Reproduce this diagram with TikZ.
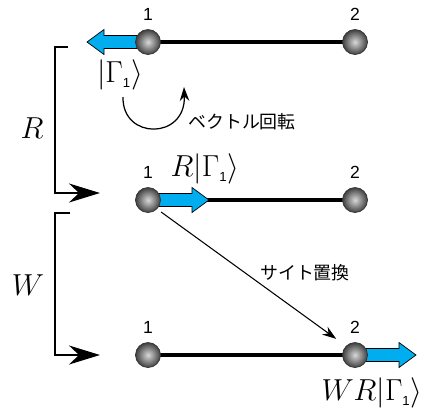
\documentclass[tikz,border=0pt]{standalone}
\usepackage{amsmath}
\usepackage{fontspec}
\newfontfamily\jpfont{Noto Sans CJK JP}
\newfontfamily\numfont{Liberation Sans}
\usepackage{tikz}
\usetikzlibrary{arrows.meta,positioning}
\definecolor{spinblue}{RGB}{0,174,239}

\begin{document}
\begin{tikzpicture}[x=0.02cm, y=-0.02cm,
    ball/.style={circle, minimum size=0.5cm, inner sep=0, draw=black!80, thin, inner color=white!85!black, outer color=black!75},
    bond/.style={line width=2.3pt},
    spinvec/.pic={\draw[black, thin, fill=spinblue] (0,-6.5) -- (44,-6.5) -- (44,-12.5) -- (61,0) -- (44,12.5) -- (44,6.5) -- (0,6.5) -- cycle;},
    num/.style={font=\numfont\fontsize{10}{12}\selectfont, inner sep=1pt},
    ket/.style={font=\fontsize{18}{20}\selectfont, inner sep=0},
    jp/.style={font=\jpfont\fontsize{10.2}{12}\selectfont},
    brk/.style={line width=1.2pt, -{Stealth[length=0.62cm, width=0.38cm, inset=0.2cm]}},
    arr/.style={-{Stealth[length=0.28cm, width=0.19cm]}, line width=0.7pt}
]
\useasboundingbox (0,0) rectangle (426,410);
\newcommand{\subone}{\text{\numfont\fontsize{7.5}{8}\selectfont 1}}

% sites of the three rows
\coordinate (p11) at (148,42);
\coordinate (p12) at (355,42);
\coordinate (p21) at (148,200);
\coordinate (p22) at (355,200);
\coordinate (p31) at (148,355);
\coordinate (p32) at (355,355);

\foreach \r in {1,2,3}
  \draw[bond] (p\r1) -- (p\r2);

% spin vectors
\pic[rotate=180] at (p11) {spinvec};
\pic at (p21) {spinvec};
\pic at (p32) {spinvec};

\foreach \r in {1,2,3}{
  \node[ball] (b\r1) at (p\r1) {};
  \node[ball] (b\r2) at (p\r2) {};
  \node[num, above=0.13cm of b\r1] (n\r1) {1};
  \node[num, above=0.13cm of b\r2] (n\r2) {2};
}

% states
\node[ket] (k1) at (120,75) {$|\Gamma_{\subone}\rangle$};
\node[ket] (k2) at (205,169) {$R|\Gamma_{\subone}\rangle$};
\node[ket] (k3) at (372,393) {$WR|\Gamma_{\subone}\rangle$};

% operators
\node[ket] (lr) at (32,128) {$R$};
\node[ket] (lw) at (28,285) {$W$};
\coordinate (rtop) at (68,47);
\coordinate (rend) at (100,193);
\draw[brk] (rtop) -- ++(-13,0) |- (rend);
\coordinate (wtop) at (70,213);
\coordinate (wend) at (100,355);
\draw[brk] (wtop) -- ++(-15,0) |- (wend);

% rotation
\coordinate (c0) at (123,97);
\coordinate (c1) at (184,87);
\draw[arr] (c0) .. controls (122,140) and (186,140) .. (c1);
\node[jp] (rot) at (242,122) {ベクトル回転};

% site exchange
\draw[arr, line width=0.6pt, shorten <=0.1cm, shorten >=0.24cm] (b21.south east) -- (b32.north west);
\node[jp] (swap) at (305,273) {サイト置換};
\end{tikzpicture}
\end{document}
